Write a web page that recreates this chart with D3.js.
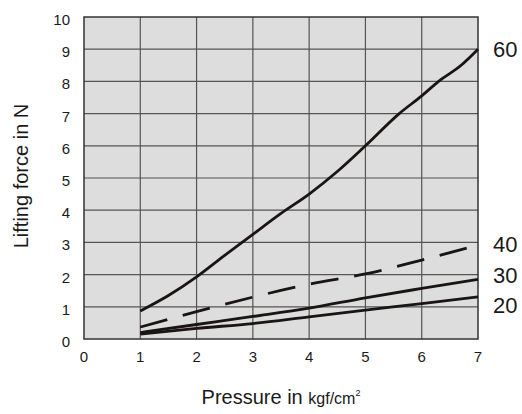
<!DOCTYPE html>
<html><head><meta charset="utf-8">
<script src="https://cdn.jsdelivr.net/npm/d3@7"></script>
<style>body{margin:0;background:#fff}text{font-family:Arial,"Liberation Sans",sans-serif;fill:#1a1a1a}</style>
</head><body><svg id="c" width="522" height="414"></svg>
<script>
const xTicks = [0,1,2,3,4,5,6,7];
const yTicks = [0,1,2,3,4,5,6,7,8,9,10];
const pressure60 = [1,1.5,2,2.5,3,3.5,4,4.5,5,5.6,6,6.3,6.7,7];
const force60 = [0.87,1.35,1.93,2.6,3.25,3.9,4.5,5.2,6.0,7.0,7.55,8.0,8.5,9.0];
const pressureLow = [1,2,3,4,5,6,7];
const force40 = [0.37,0.85,1.3,1.7,2.02,2.45,2.92];
const force30 = [0.2,0.45,0.7,0.96,1.28,1.57,1.85];
const force20 = [0.15,0.33,0.48,0.69,0.9,1.1,1.31];
const seriesLabels = ["60","40","30","20"];

const svg = d3.select("#c");
const x = d3.scaleLinear().domain([0,7]).range([84,478]);
const y = d3.scaleLinear().domain([0,10]).range([339,17]);

svg.append("rect").attr("x",84).attr("y",17).attr("width",394).attr("height",322).attr("fill","#dddddd");
svg.append("g").selectAll("line").data(xTicks.slice(1,-1)).join("line")
  .attr("x1",d=>x(d)).attr("x2",d=>x(d)).attr("y1",17).attr("y2",339).attr("stroke","#555").attr("stroke-width",1.2);
svg.append("g").selectAll("line").data(yTicks.slice(1,-1)).join("line")
  .attr("y1",d=>y(d)).attr("y2",d=>y(d)).attr("x1",84).attr("x2",478).attr("stroke","#555").attr("stroke-width",1.2);
svg.append("rect").attr("x",84).attr("y",17).attr("width",394).attr("height",322).attr("fill","none").attr("stroke","#333").attr("stroke-width",1.5);

svg.append("g").selectAll("text").data(yTicks).join("text")
  .attr("x",70).attr("y",d=>y(d)+8).attr("text-anchor","end").attr("font-size",15).text(d=>d);
svg.append("g").selectAll("text").data(xTicks).join("text")
  .attr("x",d=>x(d)).attr("y",362).attr("text-anchor","middle").attr("font-size",15).text(d=>d);

const line = d3.line().curve(d3.curveMonotoneX);
function draw(px, fy, dash){
  svg.append("path").attr("d", line(px.map((p,i)=>[x(p),y(fy[i])])))
    .attr("fill","none").attr("stroke","#1a1414").attr("stroke-width",2.8)
    .attr("stroke-dasharray",dash||null);
}
draw(pressure60, force60);
draw(pressureLow, force40, "28,16");
draw(pressureLow, force30);
draw(pressureLow, force20);

const labelBase = [57, 252, 283, 313];
svg.append("g").selectAll("text").data(seriesLabels).join("text")
  .attr("x",493).attr("y",(d,i)=>labelBase[i]).attr("font-size",22).text(d=>d);

const t = svg.append("text").attr("x",281).attr("y",404).attr("text-anchor","middle").attr("font-size",20);
t.append("tspan").text("Pressure in ");
t.append("tspan").attr("font-size",16).text("kgf/cm");
t.append("tspan").attr("font-size",9).attr("dy",-8).text("2");
svg.append("text").attr("transform","translate(28,176) rotate(-90)").attr("text-anchor","middle").attr("font-size",20).text("Lifting force in N");
</script></body></html>
